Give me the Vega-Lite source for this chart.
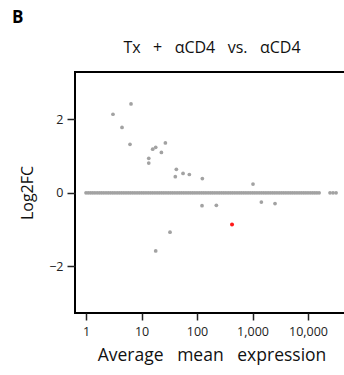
{
  "$schema": "https://vega.github.io/schema/vega-lite/v6.json",
  "autosize": {"type": "none"},
  "width": 273,
  "height": 241,
  "padding": {"left": 75, "top": 72, "right": 0, "bottom": 62},
  "title": {"text": "B", "anchor": "start", "frame": "group", "dx": -63, "dy": -8, "font": "Open Sans", "fontSize": 17, "fontWeight": "bold", "color": "#000"},
  "data": {"values": [
    {"mean": 1, "lfc": 0, "sig": "no"}, {"mean": 1.096, "lfc": 0, "sig": "no"}, {"mean": 1.202, "lfc": 0, "sig": "no"}, {"mean": 1.318, "lfc": 0, "sig": "no"}, {"mean": 1.445, "lfc": 0, "sig": "no"}, {"mean": 1.585, "lfc": 0, "sig": "no"}, {"mean": 1.738, "lfc": 0, "sig": "no"}, {"mean": 1.905, "lfc": 0, "sig": "no"}, {"mean": 2.089, "lfc": 0, "sig": "no"}, {"mean": 2.291, "lfc": 0, "sig": "no"}, {"mean": 2.512, "lfc": 0, "sig": "no"}, {"mean": 2.754, "lfc": 0, "sig": "no"}, {"mean": 3.02, "lfc": 0, "sig": "no"}, {"mean": 3.311, "lfc": 0, "sig": "no"}, {"mean": 3.631, "lfc": 0, "sig": "no"}, {"mean": 3.981, "lfc": 0, "sig": "no"}, {"mean": 4.365, "lfc": 0, "sig": "no"}, {"mean": 4.786, "lfc": 0, "sig": "no"}, {"mean": 5.248, "lfc": 0, "sig": "no"}, {"mean": 5.754, "lfc": 0, "sig": "no"}, {"mean": 6.31, "lfc": 0, "sig": "no"}, {"mean": 6.918, "lfc": 0, "sig": "no"}, {"mean": 7.586, "lfc": 0, "sig": "no"}, {"mean": 8.318, "lfc": 0, "sig": "no"}, {"mean": 9.12, "lfc": 0, "sig": "no"},
    {"mean": 10, "lfc": 0, "sig": "no"}, {"mean": 10.96, "lfc": 0, "sig": "no"}, {"mean": 12.02, "lfc": 0, "sig": "no"}, {"mean": 13.18, "lfc": 0, "sig": "no"}, {"mean": 14.45, "lfc": 0, "sig": "no"}, {"mean": 15.85, "lfc": 0, "sig": "no"}, {"mean": 17.38, "lfc": 0, "sig": "no"}, {"mean": 19.05, "lfc": 0, "sig": "no"}, {"mean": 20.89, "lfc": 0, "sig": "no"}, {"mean": 22.91, "lfc": 0, "sig": "no"}, {"mean": 25.12, "lfc": 0, "sig": "no"}, {"mean": 27.54, "lfc": 0, "sig": "no"}, {"mean": 30.2, "lfc": 0, "sig": "no"}, {"mean": 33.11, "lfc": 0, "sig": "no"}, {"mean": 36.31, "lfc": 0, "sig": "no"}, {"mean": 39.81, "lfc": 0, "sig": "no"}, {"mean": 43.65, "lfc": 0, "sig": "no"}, {"mean": 47.86, "lfc": 0, "sig": "no"}, {"mean": 52.48, "lfc": 0, "sig": "no"}, {"mean": 57.54, "lfc": 0, "sig": "no"}, {"mean": 63.1, "lfc": 0, "sig": "no"}, {"mean": 69.18, "lfc": 0, "sig": "no"}, {"mean": 75.86, "lfc": 0, "sig": "no"}, {"mean": 83.18, "lfc": 0, "sig": "no"}, {"mean": 91.2, "lfc": 0, "sig": "no"},
    {"mean": 100, "lfc": 0, "sig": "no"}, {"mean": 109.6, "lfc": 0, "sig": "no"}, {"mean": 120.2, "lfc": 0, "sig": "no"}, {"mean": 131.8, "lfc": 0, "sig": "no"}, {"mean": 144.5, "lfc": 0, "sig": "no"}, {"mean": 158.5, "lfc": 0, "sig": "no"}, {"mean": 173.8, "lfc": 0, "sig": "no"}, {"mean": 190.5, "lfc": 0, "sig": "no"}, {"mean": 208.9, "lfc": 0, "sig": "no"}, {"mean": 229.1, "lfc": 0, "sig": "no"}, {"mean": 251.2, "lfc": 0, "sig": "no"}, {"mean": 275.4, "lfc": 0, "sig": "no"}, {"mean": 302, "lfc": 0, "sig": "no"}, {"mean": 331.1, "lfc": 0, "sig": "no"}, {"mean": 363.1, "lfc": 0, "sig": "no"}, {"mean": 398.1, "lfc": 0, "sig": "no"}, {"mean": 436.5, "lfc": 0, "sig": "no"}, {"mean": 478.6, "lfc": 0, "sig": "no"}, {"mean": 524.8, "lfc": 0, "sig": "no"}, {"mean": 575.4, "lfc": 0, "sig": "no"}, {"mean": 631, "lfc": 0, "sig": "no"}, {"mean": 691.8, "lfc": 0, "sig": "no"}, {"mean": 758.6, "lfc": 0, "sig": "no"}, {"mean": 831.8, "lfc": 0, "sig": "no"}, {"mean": 912, "lfc": 0, "sig": "no"},
    {"mean": 1000, "lfc": 0, "sig": "no"}, {"mean": 1096, "lfc": 0, "sig": "no"}, {"mean": 1202, "lfc": 0, "sig": "no"}, {"mean": 1318, "lfc": 0, "sig": "no"}, {"mean": 1445, "lfc": 0, "sig": "no"}, {"mean": 1585, "lfc": 0, "sig": "no"}, {"mean": 1738, "lfc": 0, "sig": "no"}, {"mean": 1905, "lfc": 0, "sig": "no"}, {"mean": 2089, "lfc": 0, "sig": "no"}, {"mean": 2291, "lfc": 0, "sig": "no"}, {"mean": 2512, "lfc": 0, "sig": "no"}, {"mean": 2754, "lfc": 0, "sig": "no"}, {"mean": 3020, "lfc": 0, "sig": "no"}, {"mean": 3311, "lfc": 0, "sig": "no"}, {"mean": 3631, "lfc": 0, "sig": "no"}, {"mean": 3981, "lfc": 0, "sig": "no"}, {"mean": 4365, "lfc": 0, "sig": "no"}, {"mean": 4786, "lfc": 0, "sig": "no"}, {"mean": 5248, "lfc": 0, "sig": "no"}, {"mean": 5754, "lfc": 0, "sig": "no"}, {"mean": 6310, "lfc": 0, "sig": "no"}, {"mean": 6918, "lfc": 0, "sig": "no"}, {"mean": 7586, "lfc": 0, "sig": "no"}, {"mean": 8318, "lfc": 0, "sig": "no"}, {"mean": 9120, "lfc": 0, "sig": "no"},
    {"mean": 10000, "lfc": 0, "sig": "no"}, {"mean": 10960, "lfc": 0, "sig": "no"}, {"mean": 12020, "lfc": 0, "sig": "no"}, {"mean": 13180, "lfc": 0, "sig": "no"}, {"mean": 14450, "lfc": 0, "sig": "no"}, {"mean": 15850, "lfc": 0, "sig": "no"},
    {"mean": 24900, "lfc": 0, "sig": "no"}, {"mean": 28200, "lfc": 0, "sig": "no"}, {"mean": 32000, "lfc": 0, "sig": "no"},
    {"mean": 3.06, "lfc": 2.14, "sig": "no"}, {"mean": 6.47, "lfc": 2.42, "sig": "no"}, {"mean": 4.45, "lfc": 1.78, "sig": "no"}, {"mean": 6.2, "lfc": 1.32, "sig": "no"},
    {"mean": 26.9, "lfc": 1.36, "sig": "no"}, {"mean": 15.9, "lfc": 1.19, "sig": "no"}, {"mean": 18.0, "lfc": 1.24, "sig": "no"}, {"mean": 22.8, "lfc": 1.1, "sig": "no"},
    {"mean": 13.5, "lfc": 0.94, "sig": "no"}, {"mean": 13.5, "lfc": 0.81, "sig": "no"}, {"mean": 42.4, "lfc": 0.64, "sig": "no"}, {"mean": 40.6, "lfc": 0.44, "sig": "no"},
    {"mean": 56, "lfc": 0.53, "sig": "no"}, {"mean": 72.7, "lfc": 0.5, "sig": "no"}, {"mean": 124.7, "lfc": 0.39, "sig": "no"}, {"mean": 123, "lfc": -0.35, "sig": "no"},
    {"mean": 1020, "lfc": 0.24, "sig": "no"}, {"mean": 223, "lfc": -0.34, "sig": "no"}, {"mean": 1442, "lfc": -0.25, "sig": "no"}, {"mean": 2543, "lfc": -0.29, "sig": "no"},
    {"mean": 32.6, "lfc": -1.07, "sig": "no"}, {"mean": 18.0, "lfc": -1.58, "sig": "no"},
    {"mean": 427, "lfc": -0.86, "sig": "yes"}
  ]},
  "encoding": {
    "y": {"field": "lfc", "type": "quantitative", "scale": {"domain": [-3.27, 3.29], "nice": false, "zero": false},
      "axis": {"values": [-2, 0, 2], "title": "Log2FC", "titlePadding": 13, "labelPadding": 4}}
  },
  "layer": [
    {
      "transform": [{"filter": "datum.sig == 'no'"}],
      "mark": {"type": "point", "filled": true, "size": 14, "opacity": 1, "color": "#a2a2a2"},
      "encoding": {
        "x": {"field": "mean", "type": "quantitative", "scale": {"type": "log", "domain": [0.633, 52500], "nice": false},
          "axis": {"values": [1, 10, 100, 1000, 10000], "labelExpr": "format(datum.value, ',')", "title": "Average\u00a0\u00a0\u00a0mean\u00a0\u00a0\u00a0expression", "titlePadding": 9, "tickSize": 7, "labelPadding": 5, "titleFontSize": 17.5}}
      }
    },
    {
      "transform": [{"filter": "datum.sig == 'yes'"}],
      "mark": {"type": "point", "filled": true, "size": 16, "opacity": 1, "color": "#ff1a1a"},
      "encoding": {
        "x": {"field": "mean", "type": "quantitative",
          "axis": {"orient": "top", "title": "Tx\u00a0\u00a0\u00a0+\u00a0\u00a0\u00a0αCD4\u00a0\u00a0\u00a0vs.\u00a0\u00a0\u00a0αCD4", "labels": false, "ticks": false, "domain": false, "titlePadding": 17, "titleFontSize": 16}}
      }
    }
  ],
  "resolve": {"axis": {"x": "independent"}},
  "config": {
    "view": {"stroke": "#000", "strokeWidth": 2},
    "axis": {"grid": false, "domain": false, "tickColor": "#222", "tickWidth": 1.5, "tickSize": 8, "labelFont": "Open Sans", "labelFontSize": 12.5, "labelColor": "#222", "titleFont": "Open Sans", "titleFontWeight": "normal", "titleFontSize": 16, "titleColor": "#111"}
  }
}
